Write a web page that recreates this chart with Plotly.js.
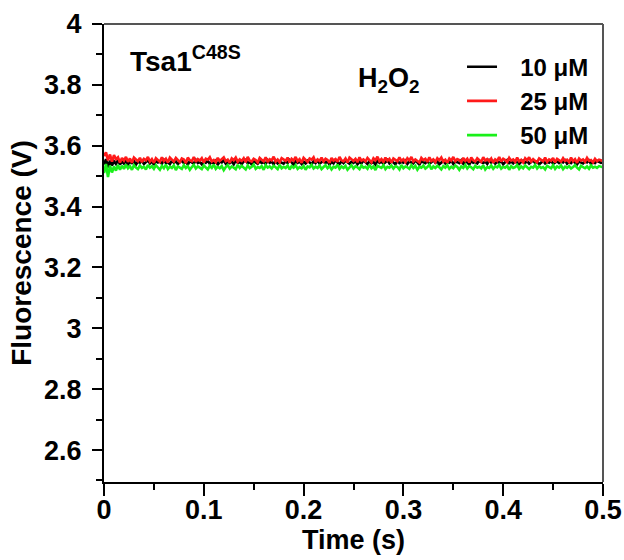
<!DOCTYPE html>
<html>
<head>
<meta charset="utf-8">
<script src="https://cdn.plot.ly/plotly-3.0.1.min.js"></script>
<style>html,body{margin:0;padding:0;background:#fff;}</style>
</head>
<body>
<div id="chart" style="width:624px;height:560px;"></div>
<script>
// Time axis: samples start at 0 s, one every 2 ms, up to 0.5 s
const timeStart = 0;
const timeStep = 0.002;

const seriesNames = ["10 μM", "25 μM", "50 μM"];
const seriesColors = ["#000000", "#ff1a1a", "#19f019"];

// Fluorescence (V), H2O2 10 µM
const fluor10 = [
3.538,3.556,3.529,3.551,3.535,3.549,3.540,3.553,3.538,3.548,
3.541,3.552,3.539,3.547,3.543,3.550,3.538,3.548,3.544,3.551,
3.540,3.546,3.552,3.542,3.549,3.537,3.550,3.545,3.548,3.541,
3.553,3.543,3.547,3.539,3.551,3.544,3.549,3.540,3.546,3.552,
3.542,3.548,3.538,3.550,3.545,3.541,3.553,3.543,3.547,3.539,
3.549,3.544,3.551,3.540,3.546,3.542,3.550,3.538,3.548,3.545,
3.552,3.541,3.547,3.543,3.549,3.539,3.551,3.544,3.546,3.540,
3.548,3.553,3.542,3.547,3.538,3.550,3.545,3.541,3.549,3.543,
3.546,3.540,3.552,3.544,3.548,3.539,3.551,3.542,3.547,3.545,
3.541,3.549,3.543,3.553,3.546,3.538,3.550,3.544,3.548,3.540,
3.547,3.542,3.551,3.545,3.539,3.549,3.543,3.552,3.541,3.546,
3.550,3.544,3.548,3.538,3.547,3.542,3.553,3.545,3.540,3.549,
3.543,3.551,3.546,3.541,3.548,3.544,3.550,3.539,3.547,3.542,
3.552,3.545,3.540,3.549,3.543,3.547,3.538,3.551,3.544,3.548,
3.541,3.546,3.553,3.542,3.549,3.545,3.539,3.550,3.543,3.547,
3.544,3.551,3.540,3.548,3.546,3.542,3.552,3.545,3.538,3.549,
3.547,3.543,3.550,3.541,3.546,3.553,3.544,3.548,3.539,3.545,
3.550,3.542,3.547,3.544,3.551,3.540,3.548,3.546,3.543,3.552,
3.541,3.549,3.545,3.538,3.550,3.544,3.547,3.542,3.551,3.546,
3.543,3.548,3.540,3.552,3.545,3.549,3.541,3.547,3.544,3.550,
3.539,3.546,3.553,3.543,3.548,3.542,3.550,3.545,3.540,3.547,
3.551,3.544,3.549,3.541,3.546,3.552,3.543,3.548,3.539,3.545,
3.550,3.542,3.547,3.544,3.551,3.540,3.546,3.549,3.543,3.548,
3.545,3.552,3.541,3.547,3.543,3.550,3.544,3.539,3.548,3.546,
3.542,3.549,3.545,3.551,3.540,3.547,3.543,3.550,3.546,3.544,
3.546];

// Fluorescence (V), H2O2 25 µM
const fluor25 = [
3.566,3.578,3.552,3.571,3.548,3.569,3.556,3.562,3.545,3.560,
3.551,3.563,3.547,3.558,3.544,3.561,3.555,3.549,3.560,3.546,
3.557,3.552,3.563,3.548,3.556,3.544,3.559,3.554,3.547,3.562,
3.550,3.557,3.545,3.561,3.553,3.548,3.560,3.551,3.546,3.558,
3.555,3.543,3.561,3.552,3.549,3.563,3.547,3.556,3.551,3.559,
3.545,3.557,3.554,3.562,3.548,3.553,3.546,3.560,3.550,3.556,
3.562,3.549,3.554,3.544,3.558,3.552,3.561,3.547,3.555,3.550,
3.559,3.546,3.563,3.551,3.548,3.557,3.553,3.545,3.560,3.554,
3.549,3.562,3.547,3.556,3.552,3.564,3.548,3.555,3.546,3.559,
3.553,3.550,3.561,3.545,3.557,3.551,3.563,3.549,3.556,3.544,
3.560,3.552,3.547,3.558,3.554,3.562,3.546,3.555,3.550,3.561,
3.548,3.557,3.553,3.544,3.560,3.551,3.556,3.547,3.563,3.552,
3.549,3.558,3.545,3.561,3.554,3.550,3.557,3.546,3.562,3.551,
3.555,3.548,3.560,3.553,3.545,3.559,3.552,3.564,3.549,3.556,
3.547,3.561,3.551,3.557,3.544,3.558,3.553,3.549,3.562,3.550,
3.556,3.546,3.559,3.552,3.563,3.548,3.555,3.551,3.545,3.560,
3.553,3.557,3.547,3.562,3.550,3.555,3.546,3.559,3.552,3.561,
3.548,3.554,3.544,3.558,3.551,3.563,3.549,3.556,3.553,3.546,
3.560,3.550,3.557,3.545,3.561,3.552,3.548,3.559,3.554,3.547,
3.562,3.551,3.556,3.549,3.558,3.544,3.555,3.550,3.563,3.548,
3.557,3.553,3.546,3.560,3.551,3.555,3.547,3.561,3.549,3.554,
3.545,3.559,3.552,3.562,3.548,3.556,3.550,3.546,3.558,3.553,
3.549,3.561,3.547,3.555,3.551,3.560,3.545,3.557,3.552,3.548,
3.559,3.550,3.554,3.546,3.561,3.549,3.556,3.544,3.558,3.551,
3.555,3.547,3.560,3.550,3.553,3.545,3.557,3.549,3.554,3.552,
3.550];

// Fluorescence (V), H2O2 50 µM
const fluor50 = [
3.510,3.540,3.497,3.535,3.512,3.532,3.518,3.537,3.521,3.534,
3.524,3.538,3.526,3.533,3.521,3.536,3.528,3.523,3.535,3.527,
3.531,3.522,3.537,3.528,3.533,3.524,3.536,3.529,3.521,3.534,
3.526,3.538,3.523,3.531,3.527,3.535,3.520,3.532,3.529,3.524,
3.536,3.527,3.533,3.521,3.530,3.537,3.525,3.532,3.528,3.523,
3.535,3.529,3.522,3.534,3.527,3.538,3.524,3.531,3.526,3.533,
3.520,3.530,3.536,3.525,3.532,3.528,3.523,3.537,3.527,3.534,
3.529,3.522,3.535,3.526,3.531,3.538,3.524,3.530,3.527,3.533,
3.521,3.536,3.528,3.532,3.525,3.534,3.529,3.523,3.537,3.526,
3.531,3.527,3.535,3.522,3.533,3.528,3.536,3.524,3.530,3.526,
3.534,3.521,3.532,3.529,3.537,3.525,3.531,3.527,3.535,3.523,
3.530,3.536,3.526,3.533,3.522,3.531,3.528,3.538,3.524,3.532,
3.527,3.534,3.521,3.530,3.536,3.525,3.533,3.529,3.523,3.535,
3.528,3.531,3.524,3.537,3.526,3.532,3.520,3.534,3.529,3.527,
3.536,3.523,3.531,3.528,3.535,3.525,3.533,3.530,3.522,3.537,
3.526,3.532,3.529,3.524,3.536,3.527,3.534,3.521,3.531,3.528,
3.535,3.525,3.530,3.538,3.523,3.532,3.527,3.534,3.529,3.522,
3.533,3.528,3.536,3.524,3.531,3.526,3.535,3.530,3.521,3.532,
3.527,3.537,3.525,3.533,3.529,3.523,3.534,3.528,3.531,3.526,
3.536,3.522,3.530,3.527,3.535,3.524,3.532,3.529,3.537,3.525,
3.531,3.528,3.534,3.521,3.533,3.527,3.530,3.536,3.524,3.532,
3.526,3.535,3.529,3.523,3.531,3.528,3.537,3.525,3.533,3.527,
3.530,3.522,3.534,3.529,3.526,3.536,3.524,3.532,3.528,3.535,
3.523,3.531,3.527,3.533,3.525,3.530,3.536,3.528,3.522,3.534,
3.529,3.526,3.532,3.524,3.535,3.528,3.531,3.527,3.533,3.530,
3.529];

const seriesValues = [fluor10, fluor25, fluor50];

const FONT = 'Arial, "Liberation Sans", Helvetica, sans-serif';
// non-breaking spaces widen the gap between legend line and label
const LEGEND_PAD = '\u00A0\u00A0\u2009';

const traces = seriesValues.map((vals, i) => ({
  type: 'scatter',
  mode: 'lines',
  name: LEGEND_PAD + seriesNames[i],
  x0: timeStart,
  dx: timeStep,
  y: vals,
  line: {color: seriesColors[i], width: 2.6}
}));

const layout = {
  width: 624,
  height: 560,
  margin: {l: 104, r: 21, t: 24, b: 78, pad: 0},
  paper_bgcolor: '#ffffff',
  plot_bgcolor: '#ffffff',
  font: {family: FONT, color: '#000', weight: 'bold'},
  showlegend: true,
  legend: {
    x: 0.982, xanchor: 'right', y: 0.955, yanchor: 'top',
    bgcolor: 'rgba(0,0,0,0)',
    font: {family: FONT, size: 24, color: '#000', weight: 'bold'},
    tracegroupgap: 0
  },
  xaxis: {
    range: [0, 0.5],
    dtick: 0.1, tick0: 0,
    ticks: 'outside', ticklen: 12, tickwidth: 2, tickcolor: '#000',
    showline: true, linecolor: '#000', linewidth: 2,
    showgrid: false, zeroline: false,
    ticklabelstandoff: -9,
    tickfont: {family: FONT, size: 27, color: '#000', weight: 'bold'},
    minor: {dtick: 0.05, ticks: 'outside', ticklen: 6, tickwidth: 2, tickcolor: '#000', showgrid: false},
    title: {text: 'Time (s)', font: {family: FONT, size: 27, color: '#000', weight: 'bold'}, standoff: 4}
  },
  yaxis: {
    range: [2.495, 4],
    dtick: 0.2, tick0: 0,
    ticks: 'outside', ticklen: 10, tickwidth: 2, tickcolor: '#000',
    showline: true, linecolor: '#000', linewidth: 2,
    showgrid: false, zeroline: false,
    ticklabelstandoff: 5,
    tickfont: {family: FONT, size: 27, color: '#000', weight: 'bold'},
    minor: {dtick: 0.1, ticks: 'outside', ticklen: 6, tickwidth: 2, tickcolor: '#000', showgrid: false},
    title: {text: 'Fluorescence (V)', font: {family: FONT, size: 28, color: '#000', weight: 'bold'}, standoff: 4}
  },
  shapes: [
    {type: 'line', xref: 'paper', yref: 'paper', x0: 0, x1: 1, y0: 1, y1: 1, line: {color: '#555', width: 2}},
    {type: 'line', xref: 'paper', yref: 'paper', x0: 1, x1: 1, y0: 0, y1: 1, line: {color: '#555', width: 2}}
  ],
  annotations: [
    {xref: 'paper', yref: 'paper', x: 0.048, y: 0.924, xanchor: 'left', yanchor: 'middle', showarrow: false,
     text: 'Tsa1<sup>C48S</sup>', font: {family: FONT, size: 28, color: '#000', weight: 'bold'}},
    {xref: 'paper', yref: 'paper', x: 0.505, y: 0.878, xanchor: 'left', yanchor: 'middle', showarrow: false,
     text: 'H<sub>2</sub>O<sub>2</sub>', font: {family: FONT, size: 27, color: '#000', weight: 'bold'}}
  ]
};

Plotly.newPlot('chart', traces, layout, {displayModeBar: false, staticPlot: true});
</script>
</body>
</html>
